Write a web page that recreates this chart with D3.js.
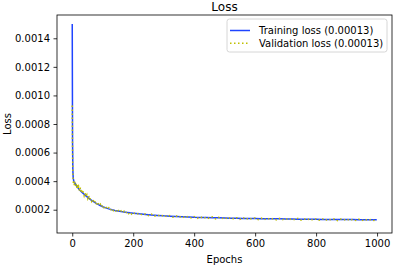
<!DOCTYPE html>
<html>
<head>
<meta charset="utf-8">
<script src="https://cdn.jsdelivr.net/npm/d3@7"></script>
<style>
  html, body { margin: 0; padding: 0; background: #fff; }
  svg text { font-family: "DejaVu Sans", sans-serif; fill: #000; }
</style>
</head>
<body>
<div id="chart"></div>
<script>
// Loss curves
const epochs = [0, 1, 2, 3, 4, 5, 6, 8, 10, 12, 14, 16, 18, 20, 23, 26, 30, 34, 38, 42, 46, 50,
  55, 60, 65, 70, 75, 80, 85, 90, 95, 100, 110, 120, 130, 140, 150, 160, 170, 180, 190, 200,
  220, 240, 260, 280, 300, 320, 340, 360, 380, 400, 420, 440, 460, 480, 500, 520, 540, 560, 580,
  600, 620, 640, 660, 680, 700, 720, 740, 760, 780, 800, 820, 840, 860, 880, 900, 920, 940, 960, 980, 999];

const trainLoss = [0.00150, 0.00068, 0.00048, 0.00043, 0.00041, 0.000400, 0.000395, 0.000388, 0.000380,
  0.000374, 0.000368, 0.000362, 0.000356, 0.000350, 0.000342, 0.000335, 0.000326, 0.000318, 0.000310,
  0.000302, 0.000295, 0.000288, 0.000279, 0.000271, 0.000263, 0.000256, 0.000249, 0.000243, 0.000237,
  0.000231, 0.000226, 0.000221, 0.000213, 0.000206, 0.000200, 0.000195, 0.000191, 0.000187, 0.000184,
  0.000181, 0.000178, 0.000176, 0.000171, 0.000167, 0.000163, 0.000160, 0.000157, 0.000155, 0.000153,
  0.000151, 0.000149, 0.000147, 0.000146, 0.000145, 0.000144, 0.000143, 0.000142, 0.000141, 0.000140,
  0.000139, 0.000139, 0.000138, 0.000137, 0.000137, 0.000136, 0.000136, 0.000135, 0.000135, 0.000134,
  0.000134, 0.000133, 0.000133, 0.000132, 0.000132, 0.000132, 0.000131, 0.000131, 0.000131, 0.000130,
  0.000130, 0.000130, 0.000130];

const valEpochs = [0, 1, 2, 3, 4, 5, 7, 9, 11, 13, 15, 17, 19, 21, 24, 27, 30, 33, 36, 39, 42, 45, 48,
  51, 54, 57, 60, 64, 68, 72, 76, 80, 84, 88, 92, 96, 100,
  105, 110, 115, 120, 125, 130, 135, 140, 145, 150, 155, 160, 165, 170, 175, 180, 185, 190, 195, 200,
  210, 220, 230, 240, 250, 260, 270, 280, 290, 300, 310, 320, 330, 340, 350, 360, 370, 380, 390, 400,
  410, 420, 430, 440, 450, 460, 470, 480, 490, 500, 510, 520, 530, 540, 550, 560, 570, 580, 590, 600,
  610, 620, 630, 640, 650, 660, 670, 680, 690, 700, 710, 720, 730, 740, 750, 760, 770, 780, 790, 800,
  810, 820, 830, 840, 850, 860, 870, 880, 890, 900, 910, 920, 930, 940, 950, 960, 970, 980, 990, 999];

const valLoss = [0.000930, 0.000600, 0.000455, 0.000415, 0.000378, 0.000398, 0.000372, 0.000395, 0.000366,
  0.000384, 0.000352, 0.000375, 0.000349, 0.000362, 0.000331, 0.000356, 0.000318, 0.000340, 0.000322,
  0.000298, 0.000318, 0.000293, 0.000305, 0.000278, 0.000296, 0.000270, 0.000281, 0.000258, 0.000272,
  0.000247, 0.000262, 0.000236, 0.000248, 0.000230, 0.000239, 0.000218, 0.000232,
  0.000209, 0.000221, 0.000203, 0.000214, 0.000196, 0.000209, 0.000193, 0.000201, 0.000186, 0.000198,
  0.000183, 0.000192, 0.000178, 0.000190, 0.000176, 0.000186, 0.000172, 0.000183, 0.000169, 0.000180,
  0.000166, 0.000176, 0.000162, 0.000171, 0.000158, 0.000169, 0.000155, 0.000164, 0.000152, 0.000163,
  0.000150, 0.000159, 0.000148, 0.000158, 0.000146, 0.000155, 0.000143, 0.000154, 0.000142, 0.000152,
  0.000140, 0.000151, 0.000139, 0.000149, 0.000138, 0.000150, 0.000136, 0.000147, 0.000137, 0.000146,
  0.000134, 0.000147, 0.000135, 0.000144, 0.000133, 0.000145, 0.000132, 0.000142, 0.000133, 0.000143,
  0.000131, 0.000141, 0.000130, 0.000142, 0.000131, 0.000140, 0.000129, 0.000139, 0.000130, 0.000140,
  0.000128, 0.000138, 0.000129, 0.000139, 0.000127, 0.000137, 0.000128, 0.000138, 0.000126, 0.000136,
  0.000127, 0.000137, 0.000125, 0.000135, 0.000127, 0.000136, 0.000124, 0.000134, 0.000126, 0.000136,
  0.000124, 0.000133, 0.000125, 0.000135, 0.000123, 0.000133, 0.000125, 0.000132, 0.000124, 0.000130];

const seriesNames = ['Training loss (0.00013)', 'Validation loss (0.00013)'];
const xTicks = [0, 200, 400, 600, 800, 1000];
const yTicks = [0.0002, 0.0004, 0.0006, 0.0008, 0.0010, 0.0012, 0.0014];

const W = 396, H = 266;
const margin = { top: 15, right: 4, bottom: 33, left: 57 };
const width = W - margin.left - margin.right;
const height = H - margin.top - margin.bottom;

const root = d3.select('#chart').append('svg')
  .attr('width', W)
  .attr('height', H);

const svg = root.append('g')
  .attr('transform', `translate(${margin.left},${margin.top})`);

const x = d3.scaleLinear().domain([-50, 1049]).range([0, width]);
const y = d3.scaleLinear().domain([0.000037, 0.001563]).range([height, 0]);

// Axes
const xAxis = svg.append('g')
  .attr('transform', `translate(0,${height})`)
  .call(d3.axisBottom(x).tickValues(xTicks).tickSize(3.5).tickPadding(3.5).tickFormat(d3.format('d')));
const yAxis = svg.append('g')
  .call(d3.axisLeft(y).tickValues(yTicks).tickSize(3.5).tickPadding(3.5).tickFormat(d3.format('.4f')));

[xAxis, yAxis].forEach(a => {
  a.select('.domain').remove();
  a.selectAll('.tick line').attr('stroke', '#000').attr('stroke-width', 0.8);
  a.selectAll('.tick text').style('font-size', '10px').attr('fill', '#000');
});

// Lines
const line = d3.line().x(d => x(d[0])).y(d => y(d[1]));

const plot = svg.append('g');
plot.append('path')
  .datum(epochs.map((e, i) => [e, trainLoss[i]]))
  .attr('fill', 'none')
  .attr('stroke', '#1f44ff')
  .attr('stroke-width', 1.5)
  .attr('d', line);

plot.append('path')
  .datum(valEpochs.map((e, i) => [e, valLoss[i]]))
  .attr('fill', 'none')
  .attr('stroke', '#bfbf00')
  .attr('stroke-width', 1.5)
  .attr('stroke-dasharray', '1.5,2.5')
  .attr('d', line);

// Frame
svg.append('rect')
  .attr('width', width)
  .attr('height', height)
  .attr('fill', 'none')
  .attr('stroke', '#000')
  .attr('stroke-width', 0.8);

// Title and labels
root.append('text')
  .attr('x', margin.left + width / 2)
  .attr('y', 11)
  .attr('text-anchor', 'middle')
  .style('font-size', '12px')
  .text('Loss');

root.append('text')
  .attr('x', margin.left + width / 2)
  .attr('y', 263)
  .attr('text-anchor', 'middle')
  .style('font-size', '10px')
  .text('Epochs');

root.append('text')
  .attr('transform', `translate(11,${margin.top + height / 2}) rotate(-90)`)
  .attr('text-anchor', 'middle')
  .style('font-size', '10px')
  .text('Loss');

// Legend
const legend = svg.append('g').attr('transform', `translate(${width - 165},4)`);
legend.append('rect')
  .attr('width', 160)
  .attr('height', 33)
  .attr('rx', 2.5)
  .attr('fill', '#fff')
  .attr('fill-opacity', 0.8)
  .attr('stroke', '#ccc')
  .attr('stroke-width', 0.8);

const styles = [
  { color: '#1f44ff', dash: null },
  { color: '#bfbf00', dash: '1.5,2.5' }
];
seriesNames.forEach((name, i) => {
  const gy = 11.5 + i * 12.7;
  legend.append('line')
    .attr('x1', 3).attr('x2', 23)
    .attr('y1', gy).attr('y2', gy)
    .attr('stroke', styles[i].color)
    .attr('stroke-width', 1.5)
    .attr('stroke-dasharray', styles[i].dash);
  legend.append('text')
    .attr('x', 32)
    .attr('y', gy + 3.6)
    .style('font-size', '10px')
    .text(name);
});
</script>
</body>
</html>
